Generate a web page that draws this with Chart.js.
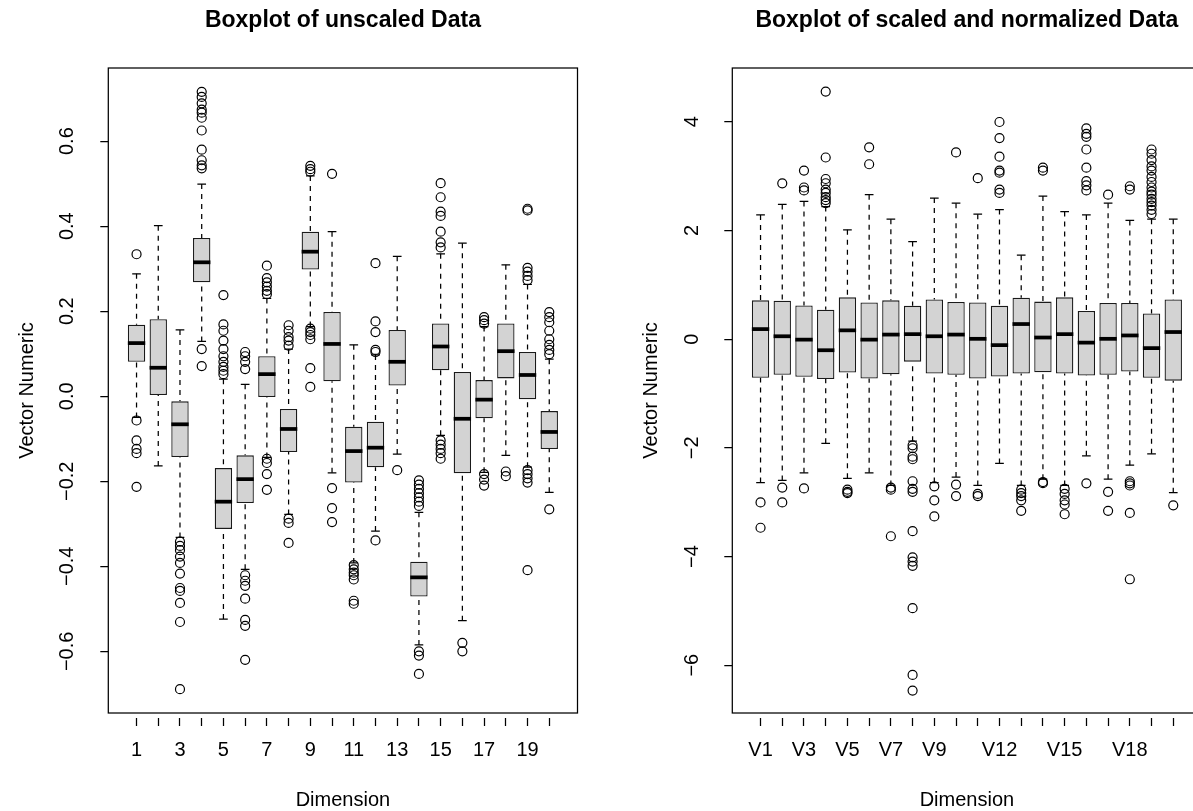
<!DOCTYPE html>
<html>
<head>
<meta charset="utf-8">
<title>Boxplots</title>
<script src="https://cdn.jsdelivr.net/npm/chart.js@4.4.1/dist/chart.umd.min.js"></script>
<style>
  html, body { margin: 0; padding: 0; background: #fff; overflow: hidden; }
  .panel { position: absolute; top: 0; width: 624px; height: 811px; }
  #leftPanel { left: 0; }
  #rightPanel { left: 624px; }
</style>
</head>
<body>
<div class="panel" id="leftPanel"><canvas id="leftChart" width="624" height="811"></canvas></div>
<div class="panel" id="rightPanel"><canvas id="rightChart" width="624" height="811"></canvas></div>
<script>
// box positions and axis ticks
var xPositions = [1, 2, 3, 4, 5, 6, 7, 8, 9, 10, 11, 12, 13, 14, 15, 16, 17, 18, 19, 20];
var leftTickAt = [1, 3, 5, 7, 9, 11, 13, 15, 17, 19];
var leftTickLabels = ['1', '3', '5', '7', '9', '11', '13', '15', '17', '19'];
var rightTickAt = [1, 3, 5, 7, 9, 12, 15, 18];
var rightTickLabels = ['V1', 'V3', 'V5', 'V7', 'V9', 'V12', 'V15', 'V18'];
var leftYTicks = [-0.6, -0.4, -0.2, 0, 0.2, 0.4, 0.6];
var rightYTicks = [-6, -4, -2, 0, 2, 4];

// unscaled data: five-number summaries per dimension
var leftLow = [-0.050, -0.164, -0.332, 0.129, -0.524, -0.407, -0.144, -0.278, 0.164, -0.180, -0.392, -0.317, -0.136, -0.585, -0.092, -0.528, -0.179, -0.139, -0.167, -0.226];
var leftQ1 = [0.081, 0.003, -0.143, 0.268, -0.312, -0.251, -0.002, -0.131, 0.298, 0.035, -0.203, -0.167, 0.025, -0.471, 0.061, -0.181, -0.052, 0.042, -0.007, -0.124];
var leftMedian = [0.125, 0.067, -0.066, 0.315, -0.248, -0.195, 0.052, -0.077, 0.340, 0.123, -0.129, -0.121, 0.081, -0.426, 0.117, -0.053, -0.008, 0.106, 0.050, -0.084];
var leftQ3 = [0.168, 0.181, -0.012, 0.372, -0.169, -0.139, 0.094, -0.030, 0.387, 0.198, -0.072, -0.060, 0.156, -0.389, 0.171, 0.057, 0.038, 0.171, 0.104, -0.035];
var leftHigh = [0.288, 0.401, 0.156, 0.499, 0.040, 0.028, 0.230, 0.111, 0.518, 0.387, 0.121, 0.097, 0.329, -0.273, 0.335, 0.360, 0.164, 0.309, 0.263, 0.087];
var leftOutliers = [
    [0.334, -0.057, -0.104, -0.124, -0.134, -0.213],
    [],
    [-0.342, -0.352, -0.362, -0.377, -0.392, -0.417, -0.451, -0.458, -0.486, -0.531, -0.689],
    [0.716, 0.704, 0.689, 0.674, 0.667, 0.655, 0.625, 0.580, 0.555, 0.543, 0.536, 0.111, 0.071],
    [0.238, 0.169, 0.154, 0.131, 0.111, 0.094, 0.081, 0.069, 0.060, 0.052],
    [0.104, 0.094, 0.081, 0.064, -0.421, -0.434, -0.446, -0.476, -0.526, -0.540, -0.620],
    [0.307, 0.278, 0.268, 0.258, 0.248, 0.240, -0.147, -0.157, -0.183, -0.220],
    [0.167, 0.154, 0.139, 0.131, 0.119, -0.288, -0.298, -0.345],
    [0.542, 0.534, 0.528, 0.159, 0.151, 0.144, 0.134, 0.066, 0.022],
    [0.523, -0.216, -0.263, -0.296],
    [-0.397, -0.407, -0.415, -0.421, -0.431, -0.481, -0.488],
    [0.313, 0.176, 0.151, 0.109, 0.104, -0.339],
    [-0.174],
    [-0.198, -0.208, -0.218, -0.228, -0.238, -0.248, -0.258, -0.600, -0.610, -0.653],
    [0.501, 0.468, 0.434, 0.424, 0.387, 0.362, 0.350, -0.104, -0.114, -0.124, -0.134, -0.147],
    [-0.580, -0.600],
    [0.186, 0.179, 0.171, -0.183, -0.196, -0.210],
    [-0.177, -0.188],
    [0.441, 0.437, 0.302, 0.293, 0.283, 0.273, -0.174, -0.183, -0.193, -0.203, -0.409],
    [0.198, 0.186, 0.174, 0.154, 0.134, 0.121, 0.109, 0.099, -0.266]
];

// scaled and normalized data
var rightLow = [-2.639, -2.600, -2.460, -1.916, -2.561, -2.460, -2.693, -1.877, -2.639, -2.537, -2.693, -2.288, -2.693, -2.578, -2.693, -2.148, -2.576, -2.320, -2.110, -2.826];
var rightQ1 = [-0.710, -0.655, -0.693, -0.733, -0.616, -0.725, -0.647, -0.414, -0.632, -0.655, -0.725, -0.686, -0.632, -0.608, -0.632, -0.671, -0.655, -0.594, -0.710, -0.764];
var rightMedian = [0.185, 0.053, -0.009, -0.204, 0.162, -0.009, 0.084, 0.092, 0.053, 0.084, 0.006, -0.110, 0.278, 0.030, 0.092, -0.064, 0.006, 0.068, -0.165, 0.131];
var rightQ3 = [0.714, 0.706, 0.621, 0.543, 0.769, 0.675, 0.714, 0.613, 0.730, 0.683, 0.675, 0.613, 0.761, 0.691, 0.769, 0.520, 0.667, 0.667, 0.473, 0.730];
var rightHigh = [2.285, 2.478, 2.534, 2.440, 2.013, 2.659, 2.207, 1.795, 2.597, 2.503, 2.300, 2.385, 1.546, 2.634, 2.347, 2.285, 2.503, 2.184, 2.207, 2.207];
var rightOutliers = [
    [-3.004, -3.471],
    [2.867, -2.732, -3.004],
    [3.102, 2.791, 2.737, -2.748],
    [4.557, 3.343, 2.947, 2.869, 2.753, 2.691, 2.613, 2.559, 2.505],
    [-2.771, -2.810, -2.833],
    [3.530, 3.219],
    [-2.732, -2.771, -3.627],
    [-1.954, -2.008, -2.163, -2.210, -2.615, -2.755, -2.810, -3.534, -4.016, -4.094, -4.172, -4.950, -6.179, -6.467],
    [-2.709, -2.966, -3.262],
    [3.437, -2.677, -2.887],
    [2.962, -2.848, -2.887],
    [3.996, 3.700, 3.358, 3.102, 3.063, 2.752, 2.691],
    [-2.771, -2.833, -2.887, -2.966, -3.160],
    [3.155, 3.102, -2.630, -2.650],
    [-2.755, -2.848, -2.966, -3.043, -3.222],
    [3.879, 3.778, 3.724, 3.490, 3.155, 2.907, 2.830, 2.737, -2.654],
    [2.659, -2.810, -3.160],
    [2.814, 2.752, -2.615, -2.654, -2.693, -3.198, -4.419],
    [3.490, 3.412, 3.295, 3.179, 3.102, 2.985, 2.892, 2.791, 2.714, 2.659, 2.582, 2.520, 2.458, 2.380, 2.303],
    [-3.059]
];

Chart.defaults.font.family = "'Liberation Sans', Arial, Helvetica, sans-serif";
Chart.defaults.color = '#000';

function withMinus(s) { return String(s).replace('-', '\u2212'); }

/* whiskers, staples, medians and the plot frame, placed with the chart's own scales */
function boxDecor(stats) {
    return {
        id: 'boxDecor',
        beforeDatasetsDraw: function(chart) {
            var meta = chart.getDatasetMeta(1);
            var ys = chart.scales.y;
            var ctx = chart.ctx;
            ctx.save();
            ctx.strokeStyle = '#000';
            ctx.lineWidth = 1.25;
            meta.data.forEach(function(bar, i) {
                var x = bar.x;
                var staple = bar.width / 4;
                var yLow = ys.getPixelForValue(stats.low[i]);
                var yQ1 = ys.getPixelForValue(stats.q1[i]);
                var yQ3 = ys.getPixelForValue(stats.q3[i]);
                var yHigh = ys.getPixelForValue(stats.high[i]);
                ctx.setLineDash([5, 5]);
                ctx.beginPath();
                ctx.moveTo(x, yHigh); ctx.lineTo(x, yQ3);
                ctx.moveTo(x, yLow); ctx.lineTo(x, yQ1);
                ctx.stroke();
                ctx.setLineDash([]);
                ctx.beginPath();
                ctx.moveTo(x - staple, yHigh); ctx.lineTo(x + staple, yHigh);
                ctx.moveTo(x - staple, yLow); ctx.lineTo(x + staple, yLow);
                ctx.stroke();
            });
            ctx.restore();
        },
        afterDatasetsDraw: function(chart) {
            var meta = chart.getDatasetMeta(1);
            var ys = chart.scales.y;
            var ctx = chart.ctx;
            var a = chart.chartArea;
            ctx.save();
            ctx.strokeStyle = '#000';
            ctx.lineWidth = 3.75;
            meta.data.forEach(function(bar, i) {
                var y = ys.getPixelForValue(stats.median[i]);
                ctx.beginPath();
                ctx.moveTo(bar.x - bar.width / 2, y);
                ctx.lineTo(bar.x + bar.width / 2, y);
                ctx.stroke();
            });
            ctx.lineWidth = 1.25;
            ctx.strokeRect(a.left, a.top, a.right - a.left, a.bottom - a.top);
            ctx.restore();
        }
    };
}

function makeBoxChart(canvasId, cfg) {
    var boxes = xPositions.map(function(x, i) { return { x: x, y: [cfg.q1[i], cfg.q3[i]] }; });
    var points = [];
    cfg.outliers.forEach(function(list, i) {
        list.forEach(function(v) { points.push({ x: xPositions[i], y: v }); });
    });
    var tickDash = [0, 5, 8, 60];

    return new Chart(document.getElementById(canvasId), {
        type: 'bar',
        data: {
            datasets: [
                {
                    type: 'scatter',
                    data: points,
                    pointStyle: 'circle',
                    pointRadius: 4.5,
                    pointHoverRadius: 4.5,
                    pointBorderWidth: 1.2,
                    pointBorderColor: '#000',
                    pointBackgroundColor: 'rgba(0,0,0,0)'
                },
                {
                    data: boxes,
                    backgroundColor: '#d3d3d3',
                    borderColor: '#1a1a1a',
                    borderWidth: 1.3,
                    borderSkipped: false,
                    barPercentage: 0.8,
                    categoryPercentage: 1.0
                }
            ]
        },
        options: {
            responsive: false,
            animation: false,
            events: [],
            layout: { padding: { left: 0, right: 46.5, top: 0, bottom: 0 } },
            plugins: {
                legend: { display: false },
                tooltip: { enabled: false },
                title: {
                    display: true,
                    text: cfg.title,
                    fullSize: false,
                    color: '#000',
                    font: { size: 23, weight: 'bold', lineHeight: 1 },
                    padding: { top: 9.3, bottom: 35.7 }
                }
            },
            scales: {
                x: {
                    type: 'linear',
                    min: -0.3,
                    max: 21.3,
                    offset: false,
                    bounds: 'data',
                    afterBuildTicks: function(scale) {
                        scale.ticks = xPositions.map(function(v) { return { value: v }; });
                    },
                    afterFit: function(scale) { scale.height = 98; },
                    border: { display: false },
                    grid: {
                        offset: false,
                        drawOnChartArea: false,
                        drawTicks: true,
                        tickLength: 13,
                        tickColor: '#000',
                        tickWidth: 1.25,
                        tickBorderDash: tickDash
                    },
                    ticks: {
                        autoSkip: false,
                        maxRotation: 0,
                        minRotation: 0,
                        padding: 12,
                        font: { size: 20 },
                        callback: function(v) {
                            var k = cfg.tickAt.indexOf(v);
                            return k === -1 ? '' : cfg.tickLabels[k];
                        }
                    },
                    title: {
                        display: true,
                        text: 'Dimension',
                        font: { size: 20, lineHeight: 1 },
                        padding: { top: 0, bottom: 1 }
                    }
                },
                y: {
                    type: 'linear',
                    min: cfg.yMin,
                    max: cfg.yMax,
                    beginAtZero: false,
                    bounds: 'data',
                    afterBuildTicks: function(scale) {
                        scale.ticks = cfg.yTicks.map(function(v) { return { value: v }; });
                    },
                    afterFit: function(scale) { scale.width = 108.3; },
                    border: { display: false },
                    grid: {
                        drawOnChartArea: false,
                        drawTicks: true,
                        tickLength: 13,
                        tickColor: '#000',
                        tickWidth: 1.25,
                        tickBorderDash: tickDash
                    },
                    ticks: {
                        autoSkip: false,
                        minRotation: 90,
                        maxRotation: 90,
                        crossAlign: 'center',
                        padding: cfg.yTickPad,
                        font: { size: 20 },
                        callback: function(v) { return withMinus(cfg.yFormat(v)); }
                    },
                    title: {
                        display: true,
                        text: 'Vector Numeric',
                        font: { size: 20, lineHeight: 1 },
                        padding: { top: 17.3, bottom: 0 }
                    }
                }
            }
        },
        plugins: [boxDecor(cfg)]
    });
}

makeBoxChart('leftChart', {
    title: 'Boxplot of unscaled Data',
    low: leftLow, q1: leftQ1, median: leftMedian, q3: leftQ3, high: leftHigh,
    outliers: leftOutliers,
    tickAt: leftTickAt, tickLabels: leftTickLabels,
    yTicks: leftYTicks, yMin: -0.745, yMax: 0.772, yTickPad: 7.6,
    yFormat: function(v) { return v.toFixed(1); }
});

makeBoxChart('rightChart', {
    title: 'Boxplot of scaled and normalized Data',
    low: rightLow, q1: rightQ1, median: rightMedian, q3: rightQ3, high: rightHigh,
    outliers: rightOutliers,
    tickAt: rightTickAt, tickLabels: rightTickLabels,
    yTicks: rightYTicks, yMin: -6.88, yMax: 4.99, yTickPad: 15.6,
    yFormat: function(v) { return String(v); }
});
</script>
</body>
</html>
